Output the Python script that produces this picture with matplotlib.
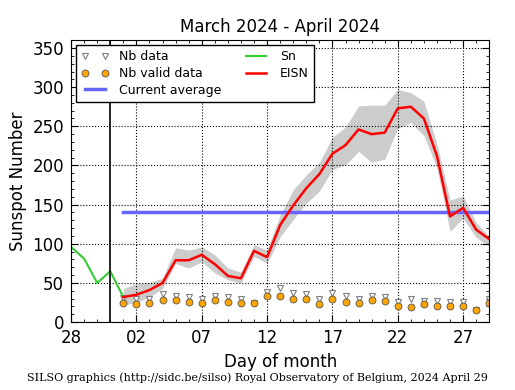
import matplotlib
matplotlib.use('Agg')
import matplotlib.pyplot as plt
import matplotlib.dates as mdates
import numpy as np
from datetime import date, timedelta

# Sn (last days of March)
sn_days = [date(2024, 3, 28) + timedelta(days=i) for i in range(5)]
sn = [96, 81, 50, 65, 32]

# EISN, April 1 .. April 29
eisn_days = [date(2024, 4, 1) + timedelta(days=i) for i in range(29)]
eisn = [32, 35, 41, 50, 79, 79, 86, 74, 59, 56, 91, 83, 124, 149, 171, 189,
        215, 226, 246, 240, 242, 273, 275, 260, 212, 135, 146, 118, 106]
eisn_hi = [43, 49, 51, 56, 95, 92, 96, 86, 69, 64, 99, 92, 137, 169, 188, 204,
           236, 249, 276, 277, 277, 297, 293, 282, 227, 156, 161, 127, 109]
eisn_lo = [22, 25, 32, 43, 75, 69, 77, 63, 54, 50, 84, 75, 109, 131, 152, 167,
           195, 201, 218, 204, 208, 247, 255, 238, 197, 116, 133, 108, 97]

nb_data = [31, 29.5, 30, 35.5, 33, 32.5, 30, 34, 32, 30, 24, 39, 43, 37, 35.5,
           29.5, 37, 33, 30, 34, 32, 26, 29.5, 27, 27, 26, 26, 16, 30]
nb_valid = [25, 23.5, 25, 28.6, 28.6, 26, 25, 28.6, 26, 25, 24, 33, 34, 30, 29.5,
            23.5, 30, 26, 25, 28.6, 26.5, 21, 19.6, 22.6, 21, 20.5, 20.5, 15.8, 25]

current_avg = 141

fig = plt.figure(figsize=(5.15, 3.9), dpi=100)
ax = fig.add_axes([0.138, 0.174, 0.812, 0.723])

ax.fill_between(eisn_days, eisn_lo, eisn_hi, color='#cccccc', lw=0)
ax.plot(eisn_days, nb_data, 'v', ms=4, mfc='white', mec='gray', mew=0.8,
        ls='none', label='Nb data')
ax.plot(eisn_days, nb_valid, 'o', ms=5, mfc='orange', mec='#555555', mew=0.6,
        ls='none', label='Nb valid data')
ax.plot([eisn_days[0], date(2024, 4, 30)], [current_avg, current_avg],
        color='#6666ff', lw=2.5, label='Current average')
ax.plot(sn_days, sn, color='#33cc33', lw=1.5, label='Sn')
ax.plot(eisn_days, eisn, color='red', lw=1.8, label='EISN')
ax.axvline(date(2024, 3, 31), color='black', lw=1.2)

ax.set_xlim(date(2024, 3, 28), date(2024, 4, 29))
ax.set_ylim(0, 360)
ax.set_xticks([date(2024, 3, 28) + timedelta(days=5 * i) for i in range(7)])
ax.xaxis.set_major_formatter(mdates.DateFormatter('%d'))
ax.xaxis.set_minor_locator(mdates.DayLocator())
ax.set_yticks(np.arange(0, 351, 50))
ax.yaxis.set_minor_locator(matplotlib.ticker.MultipleLocator(10))
ax.tick_params(which='both', direction='in', top=True, right=True, labelsize=12)
ax.tick_params(which='major', length=5)
ax.tick_params(which='minor', length=2.5)
ax.tick_params(axis='x', pad=5)
ax.tick_params(axis='y', pad=5)
ax.grid(True, which='major', color='black', ls=':', lw=0.8)

ax.set_title('March 2024 - April 2024', fontsize=12)
ax.set_xlabel('Day of month', fontsize=12)
ax.set_ylabel('Sunspot Number', fontsize=12)

leg = ax.legend(loc='upper left', ncol=2, numpoints=2, fontsize=9,
                fancybox=False, edgecolor='black', framealpha=1,
                columnspacing=1.7, handlelength=2.2, borderaxespad=0.4,
                labelspacing=0.3)
leg.get_frame().set_linewidth(1)

fig.text(0.5, 0.022, 'SILSO graphics (http://sidc.be/silso) Royal Observatory of Belgium, 2024 April 29',
         ha='center', fontsize=8, family='DejaVu Serif')

fig.savefig('out.png', dpi=100)
